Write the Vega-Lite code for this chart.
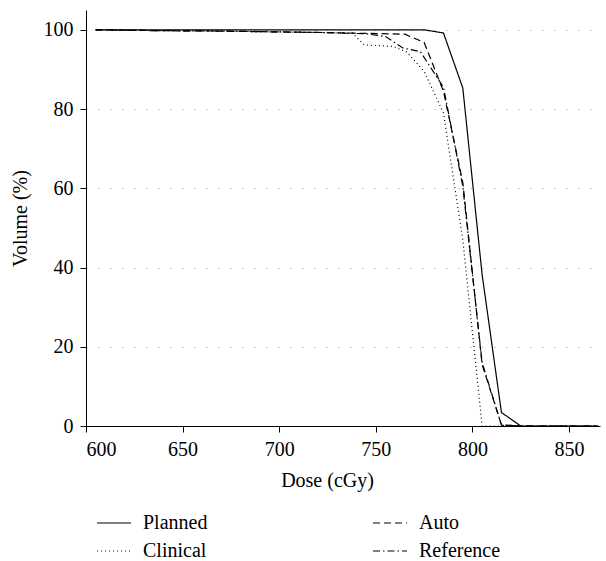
{
  "$schema": "https://vega.github.io/schema/vega-lite/v6.json",
  "autosize": "none",
  "width": 514,
  "height": 416,
  "padding": {"left": 86, "top": 10, "right": 6, "bottom": 135},
  "background": "white",
  "config": {
    "view": {"stroke": null},
    "font": "Liberation Serif",
    "axis": {"labelFont": "Liberation Serif", "titleFont": "Liberation Serif", "labelColor": "black", "titleColor": "black", "domainColor": "black", "tickColor": "black", "labelFontSize": 20, "titleFontSize": 20, "titleFontWeight": "normal", "tickSize": 6}
  },
  "data": {"values": [
    {"dose": 605, "volume": 100, "plan": "Planned"},
    {"dose": 655, "volume": 100, "plan": "Planned"},
    {"dose": 705, "volume": 100, "plan": "Planned"},
    {"dose": 755, "volume": 100, "plan": "Planned"},
    {"dose": 775, "volume": 100, "plan": "Planned"},
    {"dose": 785, "volume": 99.2, "plan": "Planned"},
    {"dose": 795, "volume": 85.3, "plan": "Planned"},
    {"dose": 805, "volume": 38.2, "plan": "Planned"},
    {"dose": 815, "volume": 3.4, "plan": "Planned"},
    {"dose": 825, "volume": 0, "plan": "Planned"},
    {"dose": 845, "volume": 0, "plan": "Planned"},
    {"dose": 865, "volume": 0, "plan": "Planned"},

    {"dose": 605, "volume": 100, "plan": "Auto"},
    {"dose": 635, "volume": 99.8, "plan": "Auto"},
    {"dose": 665, "volume": 99.7, "plan": "Auto"},
    {"dose": 695, "volume": 99.5, "plan": "Auto"},
    {"dose": 725, "volume": 99.3, "plan": "Auto"},
    {"dose": 745, "volume": 99.1, "plan": "Auto"},
    {"dose": 765, "volume": 98.9, "plan": "Auto"},
    {"dose": 775, "volume": 96.8, "plan": "Auto"},
    {"dose": 785, "volume": 84.5, "plan": "Auto"},
    {"dose": 795, "volume": 61.5, "plan": "Auto"},
    {"dose": 805, "volume": 15.5, "plan": "Auto"},
    {"dose": 815, "volume": 0.3, "plan": "Auto"},
    {"dose": 825, "volume": 0, "plan": "Auto"},
    {"dose": 865, "volume": 0, "plan": "Auto"},

    {"dose": 605, "volume": 100, "plan": "Clinical"},
    {"dose": 635, "volume": 99.8, "plan": "Clinical"},
    {"dose": 665, "volume": 99.7, "plan": "Clinical"},
    {"dose": 695, "volume": 99.5, "plan": "Clinical"},
    {"dose": 725, "volume": 99.3, "plan": "Clinical"},
    {"dose": 738, "volume": 99.1, "plan": "Clinical"},
    {"dose": 744, "volume": 96.2, "plan": "Clinical"},
    {"dose": 759, "volume": 95.8, "plan": "Clinical"},
    {"dose": 766, "volume": 94.4, "plan": "Clinical"},
    {"dose": 775, "volume": 89.5, "plan": "Clinical"},
    {"dose": 785, "volume": 79, "plan": "Clinical"},
    {"dose": 795, "volume": 47, "plan": "Clinical"},
    {"dose": 805, "volume": 0, "plan": "Clinical"},
    {"dose": 865, "volume": 0, "plan": "Clinical"},

    {"dose": 605, "volume": 100, "plan": "Reference"},
    {"dose": 635, "volume": 99.8, "plan": "Reference"},
    {"dose": 665, "volume": 99.7, "plan": "Reference"},
    {"dose": 695, "volume": 99.5, "plan": "Reference"},
    {"dose": 725, "volume": 99.3, "plan": "Reference"},
    {"dose": 745, "volume": 99.0, "plan": "Reference"},
    {"dose": 755, "volume": 98.3, "plan": "Reference"},
    {"dose": 764, "volume": 95.4, "plan": "Reference"},
    {"dose": 773, "volume": 94.5, "plan": "Reference"},
    {"dose": 785, "volume": 85.5, "plan": "Reference"},
    {"dose": 795, "volume": 60.5, "plan": "Reference"},
    {"dose": 805, "volume": 16, "plan": "Reference"},
    {"dose": 815, "volume": 0.2, "plan": "Reference"},
    {"dose": 825, "volume": 0, "plan": "Reference"},
    {"dose": 865, "volume": 0, "plan": "Reference"}
  ]},
  "mark": {"type": "line", "color": "black", "strokeWidth": 1.2, "clip": true},
  "encoding": {
    "x": {"field": "dose", "type": "quantitative", "title": "Dose (cGy)",
      "scale": {"domain": [600, 866], "nice": false, "zero": false},
      "axis": {"values": [600, 650, 700, 750, 800, 850], "grid": false, "labelPadding": 7, "titlePadding": 11, "titleX": 241}},
    "y": {"field": "volume", "type": "quantitative", "title": "Volume (%)",
      "scale": {"domain": [0, 105], "nice": false},
      "axis": {"values": [0, 20, 40, 60, 80, 100], "grid": true, "gridColor": "#999999", "gridDash": [1, 11], "gridWidth": 1, "labelPadding": 7, "titlePadding": 13}},
    "strokeDash": {"field": "plan", "type": "nominal",
      "scale": {"domain": ["Planned", "Clinical", "Auto", "Reference"], "range": [[1, 0], [1, 3], [7, 4], [7, 3, 1.5, 3]]},
      "legend": {"title": null, "orient": "none", "legendX": 10, "legendY": 495, "columns": 2, "columnPadding": 162, "rowPadding": 0,
        "symbolType": "stroke", "symbolSize": 1156, "symbolStrokeWidth": 1.2, "symbolStrokeColor": "black",
        "labelFont": "Liberation Serif", "labelFontSize": 20, "labelColor": "black", "labelOffset": 11}},
    "detail": {"field": "plan"}
  }
}
